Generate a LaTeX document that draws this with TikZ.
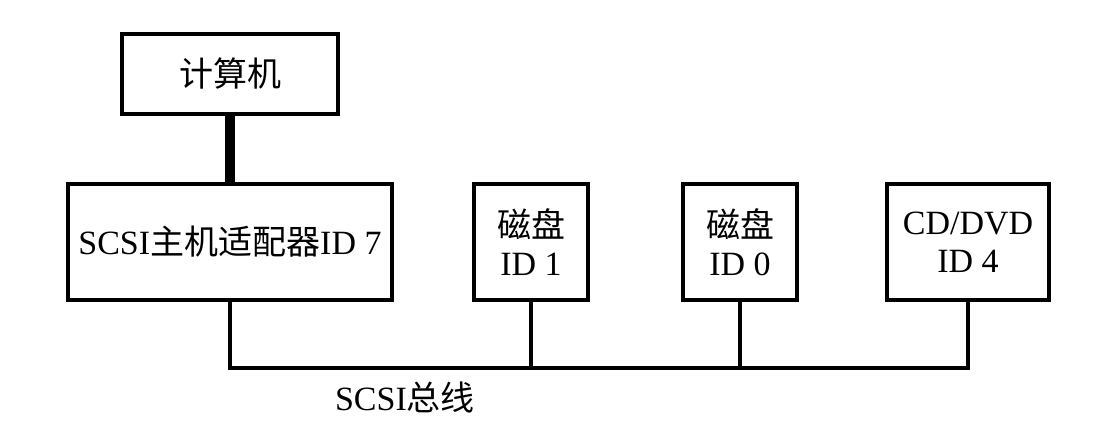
\documentclass[tikz,border=0pt]{standalone}
\usepackage{fontspec}
\setmainfont{Liberation Serif}
\newfontfamily\cjk{Noto Sans CJK SC}

\tikzset{
	box/.style = {draw, line width = 2pt, align = center, inner sep = 0pt, font = \fontsize{17}{19}\selectfont},
	bus/.style = {line width = 1.6pt}
}

\begin{document}
\begin{tikzpicture}[x = 0.5pt, y = -0.5pt]
				%	canvas
				\useasboundingbox (0, 0) rectangle (1094, 434);
				
				\def\ybox{242}
				\def\ybus{368}
				
				%	boxes
				\node[box, minimum width = 108pt, minimum height = 40pt] (comp) at (230, 74) {{\cjk 计算机}};
				\node[box, minimum width = 162pt, minimum height = 58pt] (host) at (230, \ybox) {SCSI{\cjk 主机适配器}ID 7};
				\node[box, minimum width = 57pt, minimum height = 58pt] (disk1) at (531, \ybox) {{\cjk 磁盘}\\ID 1};
				\node[box, minimum width = 57pt, minimum height = 58pt] (disk0) at (740, \ybox) {{\cjk 磁盘}\\ID 0};
				\node[box, minimum width = 81pt, minimum height = 58pt] (cd) at (968, \ybox) {CD/DVD\\ID 4};
				
				%	computer to adapter
				\draw[line width = 5pt] (comp.south) -- (host.north);
				
				%	bus
				\coordinate (busend) at (968, \ybus);
				\draw[bus] (host.south) |- (busend) -- (cd.south);
				\draw[bus] (disk1.south) -- (disk1.south |- busend);
				\draw[bus] (disk0.south) -- (disk0.south |- busend);
				\node[font = \fontsize{17}{19}\selectfont] (buslabel) at (405, 397) {SCSI{\cjk 总线}};
\end{tikzpicture}
\end{document}
